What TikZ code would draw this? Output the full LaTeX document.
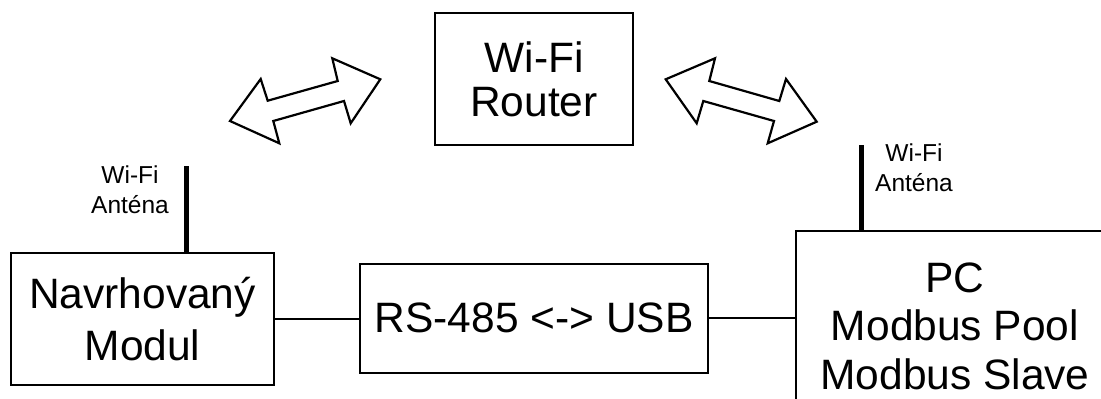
\documentclass[tikz,border=0pt]{standalone}
\usepackage{fontspec}
\setmainfont{Liberation Sans}
\tikzset{
  blok/.style={draw=black, line width=2pt, fill=white, align=center, inner sep=0pt,
    font=\fontsize{42.5}{44}\selectfont},
  malytext/.style={align=center, inner sep=0pt, font=\fontsize{24.5}{30}\selectfont},
  spoj/.style={line width=1.4pt},
  antena/.style={line width=5pt},
  sipka/.style={draw=black, fill=white, line width=2.2pt, line join=miter},
}
\begin{document}
\begin{tikzpicture}[x=1pt,y=-1pt]
\useasboundingbox (0,0) rectangle (1101,399);
\clip (0,0) rectangle (1101,399);
% bloky
\node[blok, minimum width=198, minimum height=132] (router) at (534,79) {Wi-Fi\\Router};
\node[blok, minimum width=263, minimum height=132, font=\fontsize{42.5}{52}\selectfont] (modul) at (142.5,319) {Navrhovaný\\Modul};
\node[blok, minimum width=348, minimum height=109] (prevodnik) at (534,318) {RS-485 <-> USB};
\node[blok, minimum width=318, minimum height=190, font=\fontsize{42.5}{48.5}\selectfont] (pc) at (955,326) {PC\\Modbus Pool\\Modbus Slave};
% spoje
\draw[spoj] (modul.east) -- (modul.east -| prevodnik.west);
\draw[spoj] (prevodnik.east) -- (prevodnik.east -| pc.west);
% anteny
\coordinate (antL) at (186,166);
\coordinate (antR) at (861,145);
\draw[antena] (antL) -- (antL |- modul.north);
\draw[antena] (antR) -- (antR |- pc.north);
\node[malytext] (popisL) at (130,190) {Wi-Fi\\Anténa};
\node[malytext] (popisR) at (914,168) {Wi-Fi\\Anténa};
% Wi-Fi sipky
\draw[sipka] (230,121) -- (260.7,79) -- (267.7,100.7) -- (337.7,81) -- (332.3,58.3)
  -- (380.3,79.3) -- (350.7,123.3) -- (344,101) -- (273.3,121) -- (279.3,143.3) -- cycle;
\draw[sipka] (665.7,79.3) -- (715,58.3) -- (709.3,81) -- (779.3,101) -- (786,79)
  -- (816.7,121.7) -- (767.7,143.3) -- (774,121) -- (703.3,101) -- (696.7,123.3) -- cycle;
\end{tikzpicture}
\end{document}
